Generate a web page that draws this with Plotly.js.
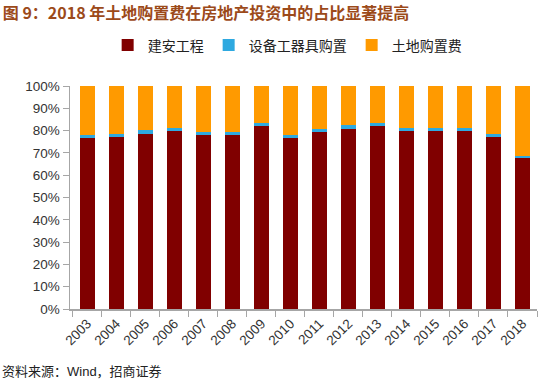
<!DOCTYPE html>
<html>
<head>
<meta charset="utf-8">
<script src="https://cdn.plot.ly/plotly-3.0.1.min.js"></script>
<style>
  html, body { margin: 0; padding: 0; background: #fff; }
  #chart { width: 550px; height: 382px; }
</style>
</head>
<body>
<div id="chart"></div>
<script>
const years = ['2003','2004','2005','2006','2007','2008','2009','2010','2011','2012','2013','2014','2015','2016','2017','2018'];
const construction = [76.5, 77.1, 78.6, 79.8, 77.9, 77.9, 82.1, 76.5, 79.4, 80.9, 82.1, 80.0, 80.0, 80.0, 77.1, 67.7];
const equipment    = [1.6, 1.5, 1.5, 1.4, 1.5, 1.5, 1.4, 1.4, 1.3, 1.4, 1.4, 1.3, 1.2, 1.2, 1.5, 1.0];
const land = construction.map((c, i) => +(100 - c - equipment[i]).toFixed(1));
const seriesNames = ['建安工程', '设备工器具购置', '土地购置费'];
const yTicks = [0,10,20,30,40,50,60,70,80,90,100];

const cjk = '"Liberation Sans", Arial, "Noto Sans CJK SC", sans-serif';
const colors = ['#800000', '#2EA9E0', '#FF9A00'];
const seriesData = [construction, equipment, land];

const traces = seriesData.map((vals, k) => ({
  type: 'bar',
  name: seriesNames[k],
  x: years,
  y: vals,
  marker: { color: colors[k], line: { width: 0 } },
  hoverinfo: 'skip'
}));

const layout = {
  width: 550, height: 382,
  paper_bgcolor: '#ffffff', plot_bgcolor: '#ffffff',
  margin: { l: 70, r: 13, t: 86, b: 73, pad: 0 },
  barmode: 'stack',
  bargap: 0.48,
  showlegend: true,
  legend: {
    orientation: 'h', traceorder: 'normal',
    x: 0.465, xanchor: 'center', xref: 'paper',
    y: 1 - 45.5/382, yanchor: 'middle', yref: 'container',
    font: { family: cjk, size: 14, color: '#222' },
    itemwidth: 30
  },
  title: {
    text: '图 9：2018 年土地购置费在房地产投资中的占比显著提高',
    x: 0.005, xanchor: 'left', xref: 'container',
    y: 1 - 13/382, yanchor: 'middle', yref: 'container',
    font: { family: '"Noto Sans CJK SC", sans-serif', size: 16, weight: 'bold', color: '#9C4A1A' }
  },
  xaxis: {
    type: 'category',
    range: [-0.6, 15.5],
    showgrid: false,
    showline: true, linecolor: '#A6A6A6', linewidth: 1.5,
    ticks: 'outside', tickson: 'boundaries', ticklen: 6, tickcolor: '#A6A6A6',
    tickangle: -45,
    tickfont: { family: '"Liberation Sans", Arial, sans-serif', size: 13.5, color: '#333' },
    zeroline: false, fixedrange: true
  },
  yaxis: {
    range: [0, 100],
    tickvals: yTicks,
    ticktext: yTicks.map(v => v + '%'),
    showgrid: false,
    showline: true, linecolor: '#A6A6A6', linewidth: 1.5,
    ticks: 'outside', ticklen: 6, tickcolor: '#A6A6A6',
    tickfont: { family: '"Liberation Sans", Arial, sans-serif', size: 13.5, color: '#333' },
    zeroline: false, fixedrange: true
  },
  annotations: [{
    text: '资料来源：Wind，招商证券',
    xref: 'paper', yref: 'paper',
    x: -70/467, xanchor: 'left',
    y: -(371.5 - 309)/223, yanchor: 'middle',
    showarrow: false,
    font: { family: cjk, size: 13, color: '#222' }
  }]
};

Plotly.newPlot('chart', traces, layout, { displayModeBar: false, staticPlot: true });
</script>
</body>
</html>
